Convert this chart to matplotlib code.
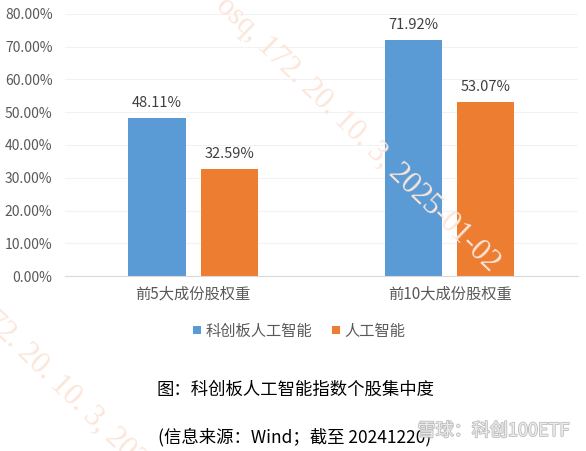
import matplotlib
matplotlib.use("Agg")
import matplotlib.pyplot as plt
import matplotlib.patheffects as pe
import numpy as np

plt.rcParams['font.family'] = ['Noto Sans CJK SC', 'DejaVu Sans']

# data
categories = ['前5大成份股权重', '前10大成份股权重']
series_names = ['科创板人工智能', '人工智能']
kc_ai = [48.11, 71.92]
ai = [32.59, 53.07]
colors = ['#5b9bd5', '#ed7d31']
yticks = [0, 10, 20, 30, 40, 50, 60, 70, 80]

fig = plt.figure(figsize=(5.86, 4.51), dpi=100)
ax = fig.add_axes([0.111, 0.388, 0.875, 0.581])

x = np.arange(len(categories))
w = 0.224
off = 0.141
b1 = ax.bar(x - off, kc_ai, w, color=colors[0], label=series_names[0], zorder=2)
b2 = ax.bar(x + off, ai, w, color=colors[1], label=series_names[1], zorder=2)

for bars, vals in [(b1, kc_ai), (b2, ai)]:
    for r, v in zip(bars, vals):
        ax.annotate(f'{v:.2f}%', (r.get_x() + r.get_width() / 2, v),
                    xytext=(0, 6), textcoords='offset points',
                    ha='center', va='bottom', fontsize=10.5, color='#404040')

ax.set_xlim(-0.5, 1.5)
ax.set_ylim(0, 80)
ax.set_yticks(yticks)
ax.set_yticklabels([f'{t:.2f}%' for t in yticks], fontsize=10, color='#595959')
ax.set_xticks(x)
ax.set_xticklabels(categories, fontsize=11, color='#595959')
ax.tick_params(length=0)
ax.tick_params(axis='y', pad=9)
ax.tick_params(axis='x', pad=7)
ax.yaxis.grid(True, color='#f2f2f2', linewidth=0.8, zorder=0)
for s in ['top', 'right', 'left']:
    ax.spines[s].set_visible(False)
ax.spines['bottom'].set_color('#d9d9d9')

fig.legend(handles=[b1, b2], labels=series_names, loc='center',
           bbox_to_anchor=(0.511, 0.266), ncol=2, frameon=False,
           fontsize=11, handlelength=0.5, handleheight=0.5,
           handletextpad=0.3, columnspacing=1.3, labelcolor='#595959')

fig.text(0.505, 1 - 390 / 451, '图：科创板人工智能指数个股集中度', ha='center', va='center',
         fontsize=12.5, color='#000000')
fig.text(0.503, 1 - 437 / 451, '(信息来源：Wind；截至 20241220)', ha='center', va='center',
         fontsize=12.5, color='#000000')

# watermarks
wm = '#fce6da'
fig.text(0.392, 1.02, 'osq, 172. 20. 10. 3, 2025-01-02', rotation=-44,
         rotation_mode='anchor', ha='left', va='top', fontsize=22,
         color=wm, family='Liberation Serif')
fig.text(-0.02, 0.345, '172. 20. 10. 3, 2025', rotation=-44,
         rotation_mode='anchor', ha='left', va='top', fontsize=22,
         color=wm, family='Liberation Serif')
fig.text(0.842, 1 - 431 / 451, '雪球：科创100ETF', ha='center', va='center',
         fontsize=13, color='#ececec',
         path_effects=[pe.withStroke(linewidth=1.2, foreground='#bdbdbd')])

fig.savefig('out.png', dpi=100)
